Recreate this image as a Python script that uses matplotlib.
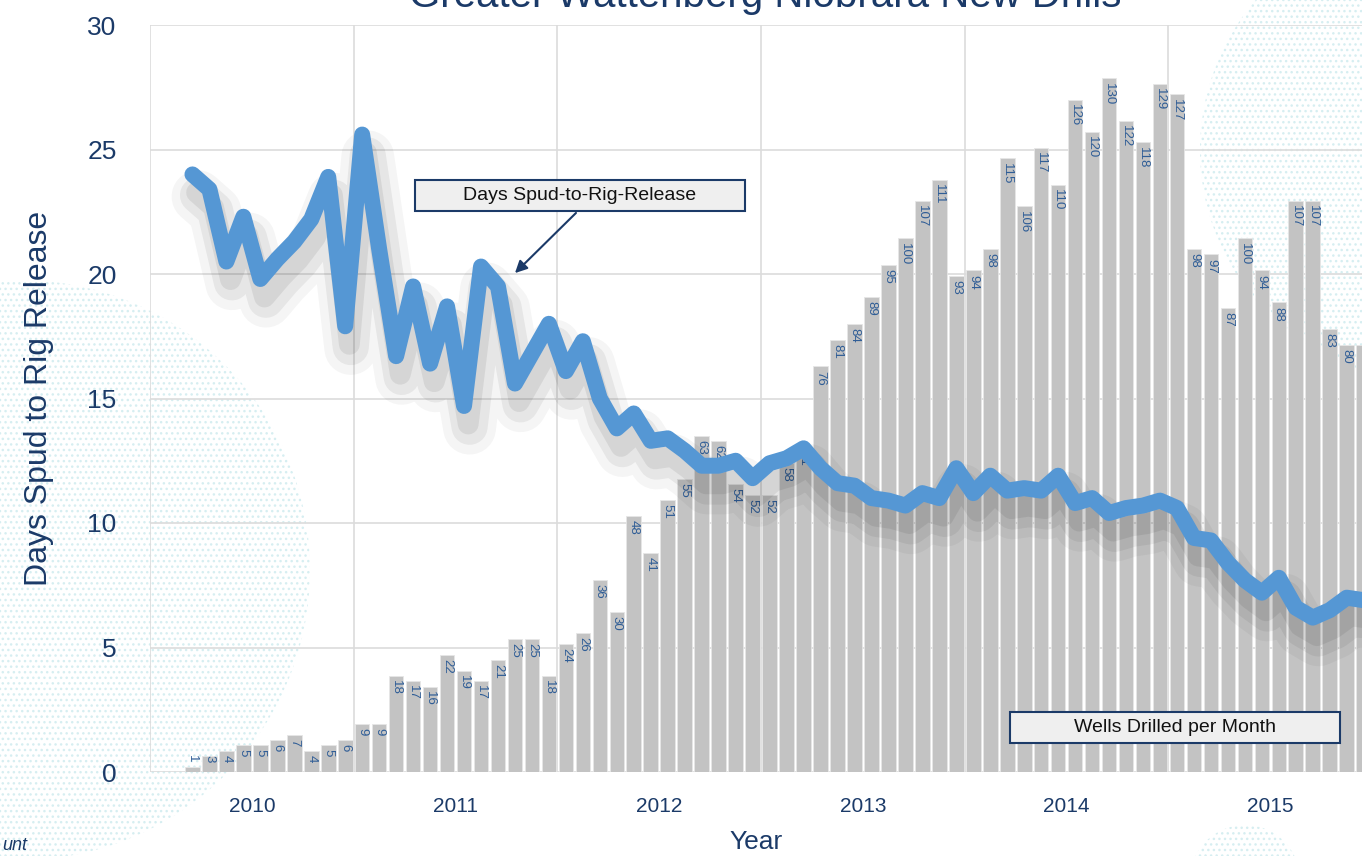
import numpy as np
import matplotlib.pyplot as plt
from matplotlib import patheffects as pe
from matplotlib.patches import Rectangle, Ellipse

# Datos (mensuales)
wells = [1, 3, 4, 5, 5, 6, 7, 4, 5, 6,
         9, 9, 18, 17, 16, 22, 19, 17, 21, 25,
         25, 18, 24, 26, 36, 30, 48, 41, 51, 55,
         63, 62, 54, 52, 52, 58, 61, 76, 81, 84,
         89, 95, 100, 107, 111, 93, 94, 98, 115, 106,
         117, 110, 126, 120, 130, 122, 118, 129, 127, 98,
         97, 87, 100, 94, 88, 107, 107, 83, 80, 80]

days = [24.0, 23.4, 20.5, 22.3, 19.8, 20.6, 21.3, 22.2, 23.9, 17.9,
        25.6, 21.0, 16.7, 19.5, 16.4, 18.7, 14.7, 20.3, 19.5, 15.6,
        16.8, 18.0, 16.1, 17.3, 15.0, 13.8, 14.4, 13.3, 13.4, 12.9,
        12.3, 12.3, 12.5, 11.8, 12.4, 12.6, 13.0, 12.2, 11.6, 11.5,
        11.0, 10.9, 10.7, 11.2, 11.0, 12.2, 11.2, 11.9, 11.3, 11.4,
        11.3, 11.9, 10.8, 11.0, 10.4, 10.6, 10.7, 10.9, 10.6, 9.4,
        9.3, 8.4, 7.7, 7.2, 7.8, 6.6, 6.2, 6.5, 7.0, 6.9]

years = ['2010', '2011', '2012', '2013', '2014', '2015']

navy = '#1b3a68'
blue = '#5597d4'
narrow = ['Liberation Sans Narrow', 'Liberation Sans', 'DejaVu Sans']
plt.rcParams['font.family'] = ['Liberation Sans', 'DejaVu Sans']

x = np.arange(len(wells))
year_edges = -2.5 + 12 * np.arange(len(years) + 1)
year_mid = year_edges[:-1] + 6

fig = plt.figure(figsize=(13.62, 8.56), dpi=100)

# fondo punteado decorativo
for cx, cy, r in [(20, 570, 290), (1430, 150, 230), (1245, 880, 55)]:
    e = Ellipse((cx / 1362, 1 - cy / 856), 2 * r / 1362, 2 * r / 856,
                transform=fig.transFigure, facecolor='none', edgecolor='#d6eef1',
                lw=0, hatch='...', zorder=-5)
    fig.patches.append(e)

ax = fig.add_axes([150 / 1362, 84 / 856, 1212 / 1362, 747 / 856])
ax.set_facecolor('none')
ax.set_xlim(-2.5, 68.9)
ax.set_ylim(0, 30)
ax.set_yticks(np.arange(0, 31, 5))
ax.set_xticks(year_edges)
ax.set_xticklabels([])
ax.set_xticks(year_mid, minor=True)
ax.set_xticklabels(years, minor=True, fontsize=15, color=navy, family=narrow)
ax.tick_params(axis='both', which='both', length=0)
ax.tick_params(axis='x', which='minor', pad=18)
ax.tick_params(axis='y', pad=24, labelsize=19, labelcolor=navy)
for lab in ax.get_yticklabels():
    lab.set_family(narrow)
ax.grid(True, color='#dcdcdc', lw=1.2)
for s in ax.spines.values():
    s.set_visible(False)
ax.set_ylabel('Days Spud to Rig Release', fontsize=23, color=navy, labelpad=24)
ax.set_xlabel('Year', fontsize=19, color=navy, family=narrow, labelpad=10)

# barras: pozos perforados por mes (escala oculta 0-140)
axb = ax.twinx()
axb.set_ylim(0, 140)
axb.set_xlim(-2.5, 68.9)
axb.axis('off')
axb.bar(x, wells, width=0.86, color='#c3c3c3', edgecolor='#e6e6e6', lw=0.6)
for xi, w in zip(x, wells):
    axb.annotate(str(w), (xi, max(w, 4)), xytext=(0, -3), textcoords='offset points',
                 rotation=270, ha='center', va='top', fontsize=9.5,
                 color='#2f5d96', family=narrow)

# linea: dias spud-to-rig-release
axl = ax.twinx()
axl.set_ylim(0, 30)
axl.set_xlim(-2.5, 68.9)
axl.axis('off')
shadow = [pe.SimpleLineShadow(offset=(4, -16), shadow_color='k', alpha=0.04, linewidth=38),
          pe.SimpleLineShadow(offset=(4, -15), shadow_color='k', alpha=0.06, linewidth=26),
          pe.SimpleLineShadow(offset=(3, -13), shadow_color='k', alpha=0.07, linewidth=15),
          pe.Normal()]
axl.plot(x, days, color=blue, lw=11.5, solid_joinstyle='round', solid_capstyle='round',
         path_effects=shadow, clip_on=True)

# cuadros de texto
box_kw = dict(transform=ax.transAxes, facecolor='#efefef', edgecolor=navy, lw=1.5, zorder=20)
axl.add_patch(Rectangle((0.2186, 0.751), 0.2723, 0.0415, **box_kw))
axl.text(0.2186 + 0.2723 / 2, 0.751 + 0.0415 / 2, 'Days Spud-to-Rig-Release',
         transform=ax.transAxes, ha='center', va='center', fontsize=14,
         color='#111111', family=narrow, zorder=21)
axl.add_patch(Rectangle((0.7096, 0.0388), 0.2723, 0.0415, **box_kw))
axl.text(0.7096 + 0.2723 / 2, 0.0388 + 0.0415 / 2, 'Wells Drilled per Month',
         transform=ax.transAxes, ha='center', va='center', fontsize=14,
         color='#111111', family=narrow, zorder=21)
axl.annotate('', xy=(0.2995, 0.6653), xytext=(0.3531, 0.751), xycoords='axes fraction',
             arrowprops=dict(arrowstyle='-|>', color=navy, lw=1.5, mutation_scale=18),
             zorder=21)

fig.text(765 / 1362, 1 - 7 / 856, 'Greater Wattenberg Niobrara New Drills',
         ha='center', va='baseline', fontsize=29, color=navy)
fig.text(2 / 1362, 1 - 850 / 856, 'unt', ha='left', va='baseline', fontsize=13,
         style='italic', color=navy)

fig.savefig('out.png', dpi=100)
